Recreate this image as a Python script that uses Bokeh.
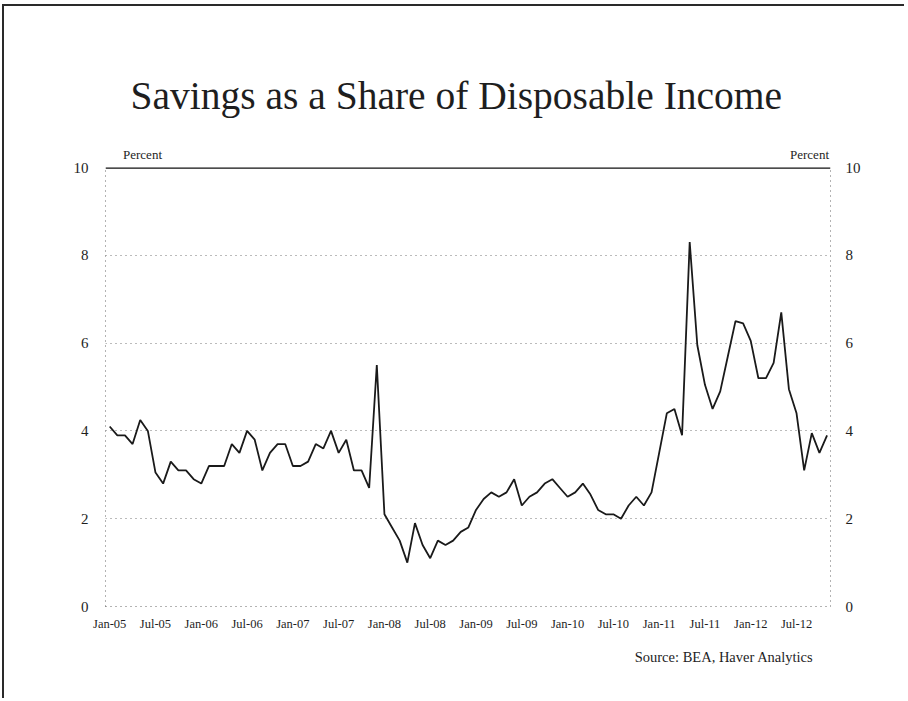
from bokeh.plotting import figure
from bokeh.models import Span, Title, FixedTicker, LinearAxis, Range1d
from bokeh.embed import file_html
from bokeh.resources import INLINE

# ---- data (monthly, Jan-05 .. Nov-12), percent ----
tick_labels = ["Jan-05", "Jul-05", "Jan-06", "Jul-06", "Jan-07", "Jul-07",
               "Jan-08", "Jul-08", "Jan-09", "Jul-09", "Jan-10", "Jul-10",
               "Jan-11", "Jul-11", "Jan-12", "Jul-12"]
tick_positions = [0, 6, 12, 18, 24, 30, 36, 42, 48, 54, 60, 66, 72, 78, 84, 90]
y_ticks = [0, 2, 4, 6, 8, 10]
unit_label = "Percent"

savings_rate = [
    4.1, 3.9, 3.9, 3.7, 4.25, 4.0, 3.05, 2.8, 3.3, 3.1,
    3.1, 2.9, 2.8, 3.2, 3.2, 3.2, 3.7, 3.5, 4.0, 3.8,
    3.1, 3.5, 3.7, 3.7, 3.2, 3.2, 3.3, 3.7, 3.6, 4.0,
    3.5, 3.8, 3.1, 3.1, 2.7, 5.5, 2.1, 1.8, 1.5, 1.0,
    1.9, 1.4, 1.1, 1.5, 1.4, 1.5, 1.7, 1.8, 2.2, 2.45,
    2.6, 2.5, 2.6, 2.9, 2.3, 2.5, 2.6, 2.8, 2.9, 2.7,
    2.5, 2.6, 2.8, 2.55, 2.2, 2.1, 2.1, 2.0, 2.3, 2.5,
    2.3, 2.6, 3.5, 4.4, 4.5, 3.9, 8.3, 5.95, 5.05, 4.5,
    4.9, 5.7, 6.5, 6.45, 6.05, 5.2, 5.2, 5.55, 6.7, 4.95,
    4.4, 3.1, 3.95, 3.5, 3.9,
]
months = list(range(len(savings_rate)))

FONT = "Liberation Serif"
INK = "#1e1e1e"

p = figure(width=902, height=694, output_backend="svg", toolbar_location=None,
           x_range=Range1d(-0.55, 94.45), y_range=Range1d(0, 10),
           min_border_left=101, min_border_right=76,
           min_border_top=161, min_border_bottom=94)
p.styles = {"border-top": "2px solid #2a2a2a", "border-left": "2px solid #2a2a2a",
            "margin-top": "4px", "margin-left": "2px"}
p.outline_line_color = None
p.background_fill_color = "white"
p.border_fill_color = "white"

# title
p.title.text = "Savings as a Share of Disposable Income"
p.title.text_font = FONT
p.title.text_font_size = "39.5px"
p.title.text_font_style = "normal"
p.title.text_color = INK
p.title.align = "left"
p.title.offset = 25
p.title.standoff = 52

# x axis
xa = p.xaxis[0]
xa.ticker = FixedTicker(ticks=tick_positions)
xa.major_label_overrides = {t: l for t, l in zip(tick_positions, tick_labels)}
xa.axis_line_color = "#666666"
xa.axis_line_dash = "1 4"
xa.major_tick_line_color = None
xa.minor_tick_line_color = None
xa.major_tick_out = 0
xa.major_tick_in = 0
xa.major_label_standoff = 10
xa.major_label_text_font = FONT
xa.major_label_text_font_size = "12.5px"
xa.major_label_text_color = INK

# "Percent" unit labels on a top axis
top = LinearAxis(ticker=FixedTicker(ticks=[4.3, 91.7]),
                 major_label_overrides={4.3: unit_label, 91.7: unit_label})
top.axis_line_color = None
top.major_tick_line_color = None
top.minor_tick_line_color = None
top.major_tick_out = 0
top.major_tick_in = 0
top.major_label_standoff = 6
top.major_label_text_font = FONT
top.major_label_text_font_size = "13px"
top.major_label_text_color = INK
p.add_layout(top, "above")

# y axes
def style_y(ax):
    ax.ticker = FixedTicker(ticks=y_ticks)
    ax.axis_line_color = "#666666"
    ax.axis_line_dash = "1 4"
    ax.major_tick_line_color = None
    ax.minor_tick_line_color = None
    ax.major_tick_out = 0
    ax.major_tick_in = 0
    ax.major_label_standoff = 17
    ax.major_label_text_font = FONT
    ax.major_label_text_font_size = "15px"
    ax.major_label_text_color = INK

style_y(p.yaxis[0])
ry = LinearAxis()
style_y(ry)
ry.major_label_standoff = 15
p.add_layout(ry, "right")

# grid
p.xgrid.visible = False
p.ygrid.ticker = FixedTicker(ticks=[2, 4, 6, 8])
p.ygrid.grid_line_color = "#777777"
p.ygrid.grid_line_dash = "1 4"
p.ygrid.grid_line_width = 1

# top solid rule
p.add_layout(Span(location=10, dimension="width", line_color="#111111", line_width=2.5))

# series
p.line(months, savings_rate, line_color="#1a1a1a", line_width=1.8)

# source
src = Title(text="Source: BEA, Haver Analytics", align="right", offset=17,
            text_font=FONT, text_font_size="14.5px", text_font_style="normal",
            text_color=INK, standoff=27)
p.add_layout(src, "below")

open("out.html", "w").write(file_html(p, INLINE))
